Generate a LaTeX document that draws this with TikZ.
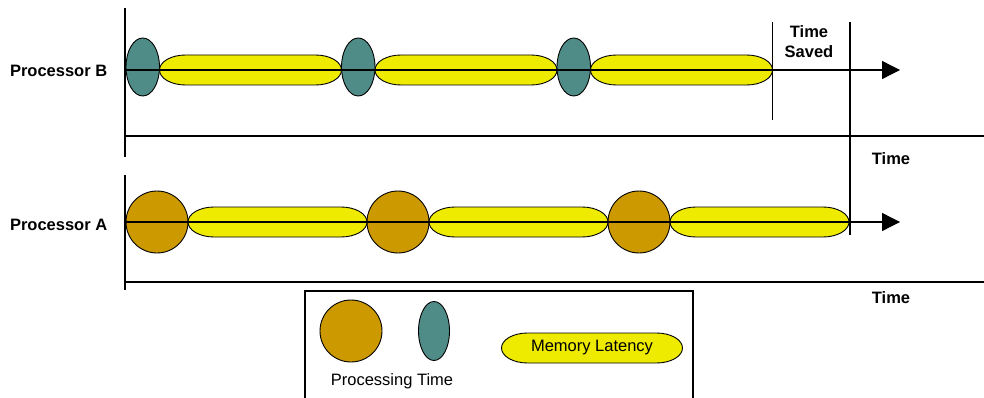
\documentclass[tikz,border=0pt]{standalone}
\usepackage{fontspec}
\setmainfont{Liberation Sans}
\usetikzlibrary{shapes.geometric, arrows.meta, positioning, calc}
\definecolor{ProcGold}{HTML}{CC9900}
\definecolor{ProcTeal}{HTML}{4F8C88}
\definecolor{MemYellow}{HTML}{EEEA00}

\begin{document}
\begin{tikzpicture}[x=1pt, y=-1pt, node distance=0pt, >={Triangle[length=18pt, width=18pt]},
    every node/.style={font=\fontsize{16.5}{20}\selectfont, inner sep=0pt, outer sep=0pt},
    procA/.style={circle, draw, line width=0.9pt, fill=ProcGold, minimum size=62pt},
    procB/.style={ellipse, draw, line width=0.9pt, fill=ProcTeal, minimum width=33.5pt, minimum height=58pt},
    memlat/.style={rectangle, minimum height=30pt, append after command={\pgfextra{
        \draw[line width=0.9pt, fill=MemYellow]
            ($(\tikzlastnode.north west)+(26,0)$) -- ($(\tikzlastnode.north east)+(-26,0)$)
            arc[start angle=-90, end angle=90, x radius=26, y radius=15]
            -- ($(\tikzlastnode.south west)+(26,0)$)
            arc[start angle=90, end angle=270, x radius=26, y radius=15] -- cycle;}}},
    lbl/.style={font=\fontsize{16.5}{20}\selectfont\bfseries},
    axis/.style={line width=1.3pt},
    frame/.style={line width=1.1pt}]
    \useasboundingbox (0,0) rectangle (984,398);

    % processor B
    \node (pb) [lbl, anchor=west] at (10,71) {Processor B};
    \node (b1) [procB] at (142.75,67) {};
    \node (bm1) [memlat, minimum width=182pt, right=of b1.east, anchor=west, yshift=-3pt] {};
    \node (b2) [procB, right=of bm1.east, anchor=west, yshift=3pt] {};
    \node (bm2) [memlat, minimum width=182pt, right=of b2.east, anchor=west, yshift=-3pt] {};
    \node (b3) [procB, right=of bm2.east, anchor=west, yshift=3pt] {};
    \node (bm3) [memlat, minimum width=182pt, right=of b3.east, anchor=west, yshift=-3pt] {};

    \coordinate (bstart) at (125,70);
    \coordinate (bend) at (900,70);
    \draw[axis, ->] (bstart) -- (bend);
    \draw[frame] (125,8) -- (125,157);
    \draw[frame] (125,136) -- (984,136);
    \draw[frame] (bm3.east |- 0,22) -- (bm3.east |- 0,120);
    \draw[frame] (850,22) -- (850,235);
    \node (saved) [lbl, align=center] at (809,42) {Time\\Saved};
    \node (tb) [lbl] at (891,159) {Time};

    % processor A
    \node (pa) [lbl, anchor=west] at (10,225) {Processor A};
    \node (a1) [procA] at (157,222) {};
    \node (am1) [memlat, minimum width=179pt, right=of a1] {};
    \node (a2) [procA, right=of am1] {};
    \node (am2) [memlat, minimum width=179pt, right=of a2] {};
    \node (a3) [procA, right=of am2] {};
    \node (am3) [memlat, minimum width=179pt, right=of a3] {};

    \coordinate (astart) at (125,222);
    \coordinate (aend) at (900,222);
    \draw[axis, ->] (astart) -- (aend);
    \draw[frame] (125,175) -- (125,290);
    \draw[frame] (125,282) -- (984,282);
    \node (ta) [lbl] at (891,298) {Time};

    % legend
    \draw[frame] (305,398) -- (305,291) -- (693,291) -- (693,398);
    \node (lgold) [procA] at (351,331) {};
    \node (lteal) [procB, minimum width=31pt, minimum height=59pt] at (434,331) {};
    \node (lproc) at (392,381) {Processing Time};
    \node (lmem) [memlat, minimum width=181pt] at (592,348) {Memory Latency};
\end{tikzpicture}
\end{document}
